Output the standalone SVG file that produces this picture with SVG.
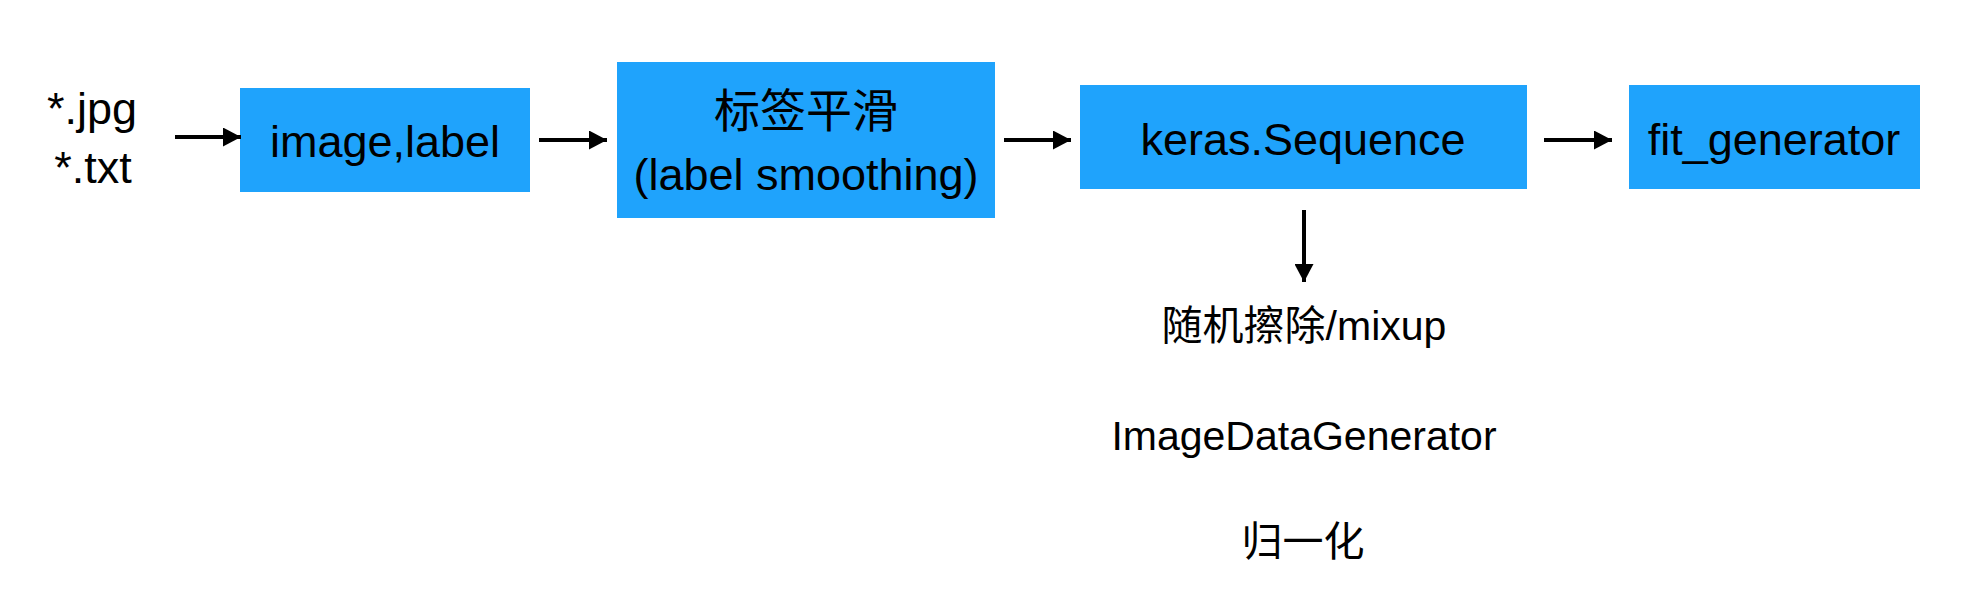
<svg xmlns="http://www.w3.org/2000/svg" width="1966" height="592" viewBox="0 0 1966 592">
<style>
.box{fill:#1fa3fc}
.t{font-family:"Liberation Sans","Noto Sans CJK SC",sans-serif;font-size:45px;fill:#000;text-anchor:middle}
.s{font-family:"Liberation Sans","Noto Sans CJK SC",sans-serif;font-size:41px;fill:#000;text-anchor:middle}
.c{font-family:"Noto Sans CJK SC",sans-serif;font-size:46px;fill:#000;text-anchor:middle}
.cs{font-family:"Noto Sans CJK SC",sans-serif;font-size:41px;fill:#000;text-anchor:middle}
.a{stroke:#000;stroke-width:4;fill:none}
</style>
<defs>
<marker id="ah" markerUnits="userSpaceOnUse" markerWidth="18" markerHeight="19" refX="18" refY="9.5" orient="auto">
<path d="M0,0 L18,9.5 L0,19 z" fill="#000"/>
</marker>
</defs>
<g id="input">
<text class="t" x="92" y="124">*.jpg</text>
<text class="t" x="93" y="183">*.txt</text>
</g>
<g id="node-image-label">
<rect class="box" x="240" y="88" width="290" height="104"/>
<text class="t" x="385" y="157">image,label</text>
</g>
<g id="node-label-smoothing">
<rect class="box" x="617" y="62" width="378" height="156"/>
<text class="c" x="806" y="127">标签平滑</text>
<text class="t" x="806" y="190">(label smoothing)</text>
</g>
<g id="node-keras-sequence">
<rect class="box" x="1080" y="85" width="447" height="104"/>
<text class="t" x="1303" y="155">keras.Sequence</text>
</g>
<g id="node-fit-generator">
<rect class="box" x="1629" y="85" width="291" height="104"/>
<text class="t" x="1774" y="155">fit_generator</text>
</g>
<g id="augment-list">
<text class="s" x="1304" y="340"><tspan style="font-family:'Noto Sans CJK SC',sans-serif">随机擦除</tspan>/mixup</text>
<text class="s" x="1304" y="450">ImageDataGenerator</text>
<text class="cs" x="1303" y="556">归一化</text>
</g>
<g id="connectors">
<line class="a" x1="175" y1="137" x2="241" y2="137" marker-end="url(#ah)"/>
<line class="a" x1="539" y1="140" x2="607" y2="140" marker-end="url(#ah)"/>
<line class="a" x1="1004" y1="140" x2="1071" y2="140" marker-end="url(#ah)"/>
<line class="a" x1="1544" y1="140" x2="1612" y2="140" marker-end="url(#ah)"/>
<line class="a" x1="1304" y1="210" x2="1304" y2="282" marker-end="url(#ah)"/>
</g>
</svg>
